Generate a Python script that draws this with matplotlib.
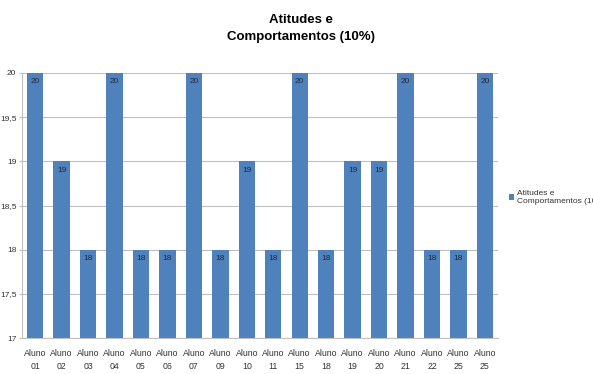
import matplotlib.pyplot as plt
import numpy as np

plt.rcParams['font.family'] = ['Liberation Sans', 'DejaVu Sans']

# --------------------------
# Data
# --------------------------
alunos = ["01", "02", "03", "04", "05", "06", "07", "09", "10", "11",
          "15", "18", "19", "20", "21", "22", "25", "25"]
notas = [20, 19, 18, 20, 18, 18, 20, 18, 19, 18,
         20, 18, 19, 19, 20, 18, 18, 20]
serie = "Atitudes e\nComportamentos (10%)"
y_ticks = [17, 17.5, 18, 18.5, 19, 19.5, 20]
y_labels = ["17", "17,5", "18", "18,5", "19", "19,5", "20"]

bar_color = "#4F81BD"
grid_color = "#BFBFBF"

fig = plt.figure(figsize=(5.93, 3.74), dpi=100)
ax = fig.add_axes([0.037, 0.096, 0.803, 0.709])

x = np.arange(len(alunos))
bars = ax.bar(x, notas, width=0.62, color=bar_color, label=serie, zorder=2)

for xi, v in zip(x, notas):
    ax.text(xi, v - 0.06, f"{v}", ha="center", va="top", fontsize=6,
            color="#1F2A3A", zorder=3)

ax.set_xlim(-0.5, len(alunos) - 0.5)
ax.set_ylim(17, 20)
ax.set_yticks(y_ticks)
ax.set_yticklabels(y_labels, fontsize=6, color="#333333")
ax.set_xticks(x)
ax.set_xticklabels([f"Aluno\n{a}" for a in alunos], fontsize=6.3,
                   color="#333333", linespacing=1.5)
ax.tick_params(axis="x", length=0, pad=8)
ax.tick_params(axis="y", length=2, color=grid_color, pad=2)

ax.grid(axis="y", color=grid_color, linewidth=0.8, zorder=0)
ax.set_axisbelow(True)
for side in ["top", "right"]:
    ax.spines[side].set_visible(False)
ax.spines["left"].set_color(grid_color)
ax.spines["bottom"].set_color(grid_color)

fig.text(0.507, 0.925, "Atitudes e\nComportamentos (10%)", ha="center",
         va="center", fontsize=9.5, fontweight="bold", linespacing=1.55)

# legend runs off the right edge, as in the original
leg = ax.legend(loc="center left", bbox_to_anchor=(1.015, 0.53), frameon=False,
                fontsize=6, handlelength=0.6, handleheight=0.6,
                handletextpad=0.4, borderaxespad=0)
for t in leg.get_texts():
    t.set_color("#333333")

fig.savefig("out.png", dpi=100)
